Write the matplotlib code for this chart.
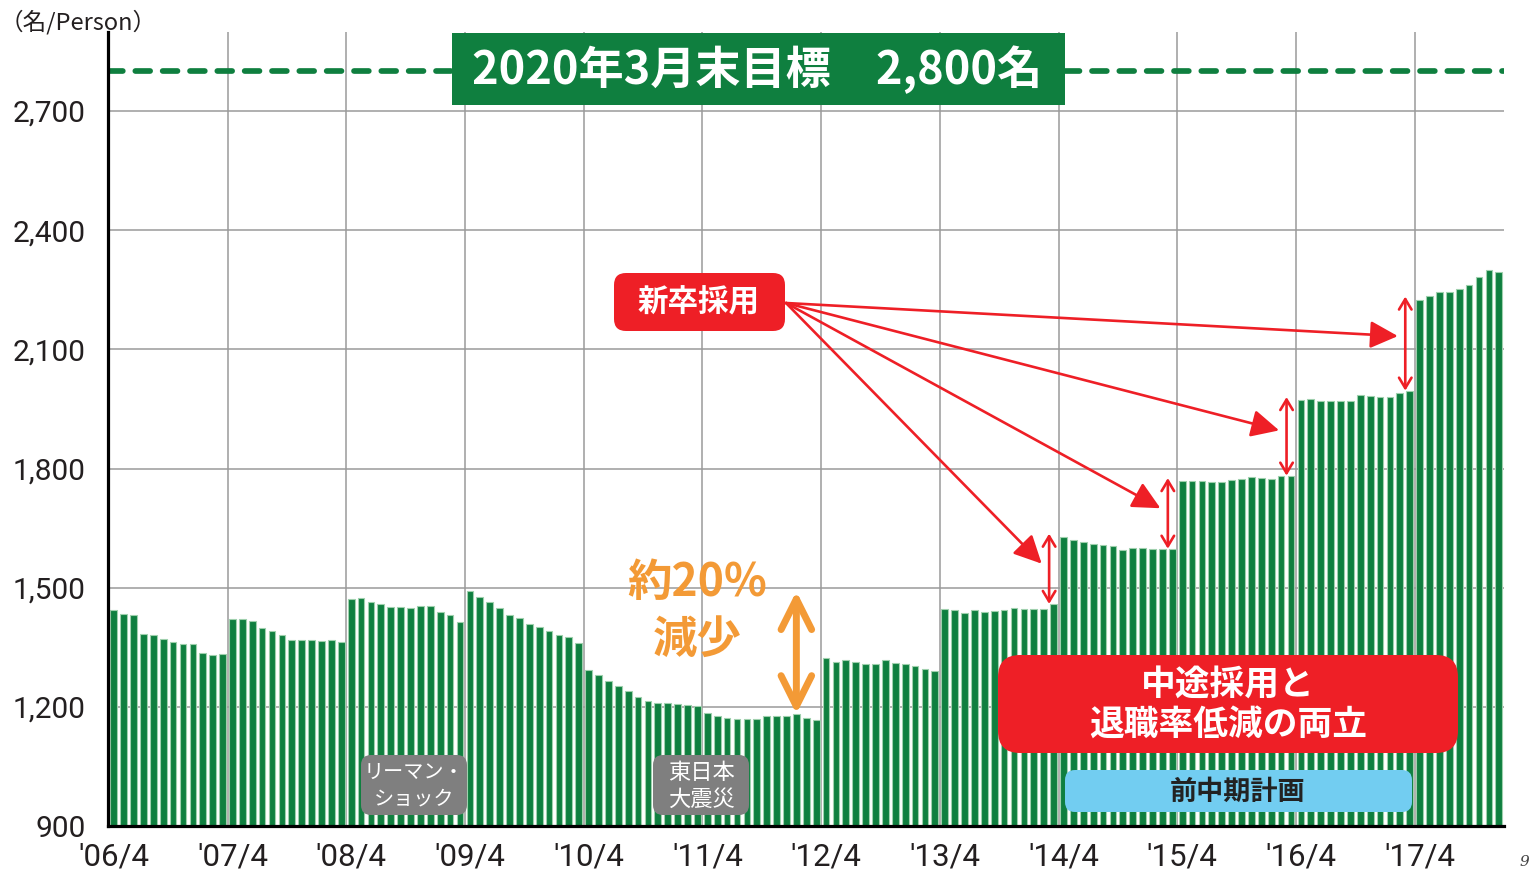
import numpy as np
import matplotlib
matplotlib.use("Agg")
import matplotlib.pyplot as plt
from matplotlib.patches import FancyBboxPatch

# ---------------- data (employees, monthly, fiscal years starting April) ----------------
fy2006 = [1443, 1434, 1430, 1384, 1381, 1372, 1364, 1357, 1357, 1335, 1330, 1333]
fy2007 = [1422, 1421, 1417, 1398, 1390, 1381, 1369, 1369, 1369, 1367, 1368, 1363]
fy2008 = [1471, 1474, 1465, 1458, 1451, 1451, 1450, 1453, 1453, 1438, 1432, 1413]
fy2009 = [1491, 1476, 1465, 1448, 1432, 1423, 1409, 1402, 1392, 1382, 1375, 1360]
fy2010 = [1292, 1279, 1265, 1252, 1240, 1224, 1214, 1210, 1210, 1206, 1204, 1201]
fy2011 = [1185, 1178, 1173, 1170, 1170, 1170, 1177, 1177, 1176, 1182, 1171, 1166]
fy2012 = [1322, 1313, 1319, 1314, 1308, 1308, 1317, 1311, 1308, 1303, 1295, 1289]
fy2013 = [1447, 1443, 1435, 1443, 1439, 1442, 1444, 1449, 1446, 1447, 1447, 1459]
fy2014 = [1628, 1620, 1615, 1610, 1607, 1604, 1595, 1600, 1601, 1598, 1598, 1598]
fy2015 = [1768, 1768, 1768, 1766, 1765, 1770, 1774, 1779, 1776, 1774, 1780, 1782]
fy2016 = [1972, 1975, 1970, 1970, 1970, 1969, 1984, 1982, 1979, 1981, 1990, 1996]
fy2017 = [2225, 2235, 2244, 2245, 2253, 2262, 2281, 2299, 2295]

x_labels = ["'06/4", "'07/4", "'08/4", "'09/4", "'10/4", "'11/4",
            "'12/4", "'13/4", "'14/4", "'15/4", "'16/4", "'17/4"]
y_ticks = [900, 1200, 1500, 1800, 2100, 2400, 2700]
target = 2800
peak_index = 36      # '09/4
trough_index = 69    # late 2011
new_grad_years = [8, 9, 10, 11]   # fiscal-year indices with new-graduate jumps

values = np.array(fy2006 + fy2007 + fy2008 + fy2009 + fy2010 + fy2011 +
                  fy2012 + fy2013 + fy2014 + fy2015 + fy2016 + fy2017)
idx = np.arange(len(values))

# ---------------- styling ----------------
GREEN = "#0f7f3f"
RED = "#ee1f26"
ORANGE = "#f39a36"
BLUE = "#72cdf1"
GRAY = "#7f7f7f"
CJK = ["Noto Sans CJK JP", "DejaVu Sans"]
NUM = ["Liberation Sans Narrow", "Roboto", "DejaVu Sans"]

W, H = 1532, 872
fig = plt.figure(figsize=(W / 100, H / 100), dpi=100)
ax = fig.add_axes([108 / W, 46 / H, 1396 / W, (826 - 31.6) / H])

ax.bar(idx, values, width=0.68, color=GREEN, edgecolor="#9fd0ad",
       linewidth=0.8, zorder=2)

ax.set_xlim(-0.58, 140.53)
ax.set_ylim(900, 2900)

# grid
ax.set_axisbelow(True)
for v in y_ticks[1:]:
    ax.axhline(v, color="#9a9a9a", lw=1.1, zorder=0)
for k in range(1, 12):
    ax.axvline(12 * k - 0.5, color="#9a9a9a", lw=1.1, zorder=0)

# target dashed line
ax.axhline(target, color=GREEN, lw=4.1, dashes=(2.6, 2.2),
           dash_capstyle="round", zorder=3)

# axes styling
for s in ["top", "right"]:
    ax.spines[s].set_visible(False)
for s in ["left", "bottom"]:
    ax.spines[s].set_linewidth(2.3)
    ax.spines[s].set_color("black")
    ax.spines[s].set_zorder(5)

ax.set_xticks(np.arange(0, len(x_labels) * 12, 12))
ax.set_xticklabels(x_labels, fontfamily=NUM, fontsize=22.5, color="#231f20")
ax.set_yticks(y_ticks)
ax.set_yticklabels([f"{v:,}" for v in y_ticks], fontfamily=NUM,
                   fontsize=21.5, color="#231f20")
ax.tick_params(axis="x", length=0, pad=12)
ax.tick_params(axis="y", length=0, pad=16)

# ---------------- annotations ----------------
inch = fig.dpi_scale_trans


def P(x, y):
    """pixel (top-left origin) -> inches for dpi_scale_trans"""
    return x / 100, (H - y) / 100


def rbox(x0, y0, x1, y1, color, r):
    bx, by = P(x0, y1)
    p = FancyBboxPatch((bx, by), (x1 - x0) / 100, (y1 - y0) / 100,
                       boxstyle=f"round,pad=0,rounding_size={r / 100}",
                       transform=inch, facecolor=color, edgecolor="none",
                       zorder=6)
    fig.add_artist(p)


def label(x, y, s, size, color="white", weight="bold", ls=1.2):
    fig.text(*P(x, y), s, transform=inch, ha="center", va="center",
             fontsize=size, color=color, fontweight=weight,
             fontfamily=CJK, linespacing=ls, zorder=7)


# y unit label
fig.text(*P(0, 22), "（名/Person）", transform=inch, ha="left", va="center",
         fontsize=17, color="#231f20", fontfamily=CJK)

# target box
rbox(452, 33, 1065, 105, GREEN, 0)
label(757, 70, "2020年3月末目標　2,800名", 32.5)

# new graduates box
rbox(614, 273, 785, 331, RED, 12)
label(699, 302, "新卒採用", 22)

# red arrows
for k in new_grad_years:
    prev, new = values[12 * k - 1], values[12 * k]
    ax.annotate("", xy=(12 * k - 2.2, prev + 0.6 * (new - prev)),
                xytext=(786, H - 303), textcoords="figure pixels",
                arrowprops=dict(arrowstyle="-|>,head_length=0.85,head_width=0.42",
                                color=RED, lw=1.9, shrinkA=0, shrinkB=0,
                                mutation_scale=20), zorder=8)
    ax.annotate("", xy=(12 * k - 1.45, new + 8), xytext=(12 * k - 1.45, prev),
                arrowprops=dict(arrowstyle="<->,head_length=0.5,head_width=0.3",
                                color=RED, lw=1.9, shrinkA=0, shrinkB=0,
                                mutation_scale=15), zorder=8)

# orange decline
label(697, 611, "約20%\n減少", 32, color=ORANGE, ls=1.3)
ax.annotate("", xy=(trough_index, values[trough_index]),
            xytext=(trough_index, values[peak_index]),
            arrowprops=dict(arrowstyle="<->,head_length=1.1,head_width=0.55",
                            color=ORANGE, lw=5, shrinkA=0, shrinkB=0,
                            mutation_scale=20, capstyle="round",
                            joinstyle="round"), zorder=8)

# mid-career box
rbox(998, 655, 1458, 753, RED, 22)
label(1228, 704, "中途採用と\n退職率低減の両立", 25, ls=1.2)

# previous mid-term plan
rbox(1065, 770, 1412, 812, BLUE, 10)
label(1238, 792, "前中期計画", 19.5, color="#222222")

# event boxes
rbox(361, 755, 467, 815, GRAY, 10)
label(414, 786, "リーマン・\nショック", 14.5, weight="normal", ls=1.35)
rbox(653, 755, 749, 815, GRAY, 10)
label(701, 786, "東日本\n大震災", 16, weight="normal", ls=1.2)

# page number
fig.text(*P(1519, 855), "9", transform=inch, ha="left", va="top",
         fontsize=11, color="#444444", fontfamily="DejaVu Serif",
         fontstyle="italic")

fig.savefig("out.png", dpi=100)
